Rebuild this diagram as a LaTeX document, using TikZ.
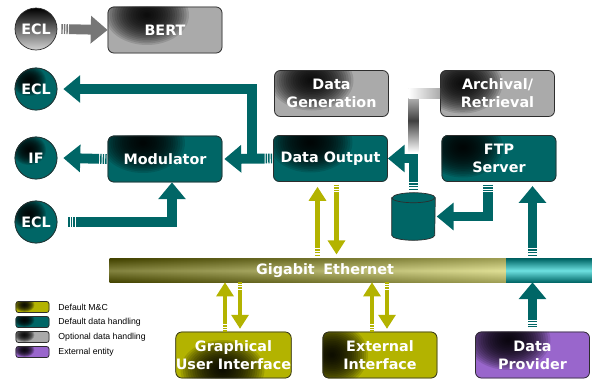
\documentclass[tikz,border=0pt]{standalone}
\usepackage{fontspec}
\setmainfont{DejaVu Sans}
\newfontfamily\legendfont{Liberation Sans}
\usetikzlibrary{arrows.meta,calc,positioning}
\pgfdeclarelayer{background}
\pgfsetlayers{background,main}

\newcommand\pxu{0.025cm}
\definecolor{dhteal}{RGB}{0,102,102}
\definecolor{mcolive}{RGB}{179,179,0}
\definecolor{optgray}{RGB}{170,170,170}
\definecolor{extpurple}{RGB}{153,102,204}
\definecolor{edgegray}{RGB}{45,45,45}
\definecolor{bertgray}{RGB}{118,118,118}
\definecolor{cyanlight}{RGB}{110,225,225}

\tikzset{box/.style={rectangle, rounded corners=6*\pxu, draw=edgegray, line width=0.5pt,
    minimum width=114*\pxu, minimum height=46*\pxu, inner sep=0pt,
    text=white, font=\bfseries\fontsize{10.2}{12.8}\selectfont, align=center}}
\tikzset{port/.style={box, circle, minimum size=42*\pxu}}
\tikzstyle{keytext}=[inner sep=0pt, font=\legendfont\fontsize{6.2}{8}\selectfont]

\begin{document}
\begin{tikzpicture}[x=\pxu, y=-\pxu]

\tikzset{flow/.style = {draw=#1, line width=7pt, line join=miter, -{Triangle[width=19pt,length=12pt]}}}
\tikzset{mc/.style = {draw=mcolive, line width=3pt, -{Triangle[width=12pt,length=10pt]}}}
\tikzset{tail/.style = {dash pattern=on 1pt off 0.8pt on 1pt off 0.8pt on 1pt off 0.8pt on 1000pt off 1pt}}

\useasboundingbox (0,0) rectangle (592,383);

%ports
\node[circle, draw=edgegray, line width=0.5pt, top color=black, bottom color=gray!35,
  minimum size=42*\pxu, inner sep=0pt, text=white, font=\bfseries\fontsize{10.2}{12.8}\selectfont] (eclbert) at (36,29) {ECL};
\node[port] (eclout) at (36,89) {ECL};
\node[port] (ifout) at (36,158) {IF};
\node[port] (eclin) at (36,222) {ECL};

%boxes
\node[box] (bert) at (165,30) {BERT};
\node[box] (mod) at (165,159) {Modulator};
\node[box] (dgen) at (331.5,93.5) {Data\\Generation};
\node[box] (dout) at (330.5,158.5) {Data Output};
\node[box] (arch) at (497.5,93.5) {Archival/\\Retrieval};
\node[box] (ftp) at (499,158.5) {FTP\\Server};
\node[box] (gui) at (233.5,355) {Graphical\\User Interface};
\node[box] (ext) at (380,355) {External\\Interface};
\node[box] (dp) at (532.5,355) {Data\\Provider};

%legend
\foreach \t [count=\i] in {Default M\&C, Default data handling, Optional data handling, External entity} {
  \node[box, minimum width=33*\pxu, minimum height=11*\pxu, rounded corners=2.5*\pxu] (key\i) at (32.5,292+15*\i) {};
  \node[keytext, right=2.2mm of key\i] (keytext\i) {\t};
}

%fills with dark glow (node/colour/spot dx/spot dy/radius x/radius y/corner)
\begin{pgfonlayer}{background}
\foreach \n/\c/\dx/\dy/\rx/\ry/\rc in {
    eclout/dhteal/-7/-8/17/15/21, ifout/dhteal/-7/-8/17/15/21, eclin/dhteal/-7/-8/17/15/21,
    bert/optgray/-18/-15/42/30/6, mod/dhteal/-22/-16/42/30/6, dgen/optgray/-20/-13/42/30/6,
    dout/dhteal/-20/-16/42/30/6, arch/optgray/-35/-10/40/30/6, ftp/dhteal/-36/-11/40/30/6,
    gui/mcolive/-11/15/42/30/6, ext/mcolive/-48/0/36/32/6, dp/extpurple/-24/-15/42/30/6,
    key1/mcolive/-8/-2/10/7/2.5, key2/dhteal/-8/-2/10/7/2.5,
    key3/optgray/-8/-2/10/7/2.5, key4/extpurple/-8/-2/10/7/2.5} {
  \fill[\c, rounded corners=\rc*\pxu] (\n.west |- \n.north) rectangle (\n.east |- \n.south);
  \begin{scope}
    \clip[rounded corners=\rc*\pxu] (\n.west |- \n.north) rectangle (\n.east |- \n.south);
    \foreach \k in {1,...,18}
      \fill[black, opacity=0.12] ([xshift=\dx*\pxu, yshift=-\dy*\pxu]\n.center)
        ellipse [x radius=(19-\k)/18*\rx*\pxu, y radius=(19-\k)/18*\ry*\pxu];
  \end{scope}
}
\end{pgfonlayer}

%storage drum
\node[inner sep=0pt, minimum width=43*\pxu, minimum height=47*\pxu] (store) at (413.5,216.5) {};
\filldraw[fill=dhteal, draw=edgegray, line width=0.5pt] ([yshift=-5*\pxu]store.north west) -- ([yshift=5*\pxu]store.south west)
  arc[start angle=180, end angle=360, x radius=21.5*\pxu, y radius=5*\pxu]
  -- ([yshift=-5*\pxu]store.north east)
  arc[start angle=0, end angle=180, x radius=21.5*\pxu, y radius=5*\pxu] -- cycle;
\draw[edgegray, line width=0.5pt] ([yshift=-5*\pxu]store.north west) arc[start angle=180, end angle=360, x radius=21.5*\pxu, y radius=5*\pxu];

%ethernet bar
\node[inner sep=0pt, minimum width=482*\pxu, minimum height=23*\pxu] (gbe) at (351,270.5) {};
\coordinate (gbesplit) at (506,270.5);
\shade[left color=mcolive!50!black, right color=mcolive!55!white] (gbe.north west) rectangle (gbe.south -| gbesplit);
\shade[top color=black, bottom color=black, middle color=white, opacity=0.25] (gbe.north west) rectangle (gbe.south -| gbesplit);
\shade[top color=dhteal, bottom color=dhteal, middle color=cyanlight] (gbe.north -| gbesplit) rectangle (gbe.south east);
\node[inner sep=0pt, text=white, font=\bfseries\fontsize{10.2}{12.8}\selectfont] (gbelabel) at (325,270.5) {Gigabit\hspace{0.6em}Ethernet};

%archival link
\coordinate (archjoin) at (store.north |- arch.west);
\coordinate (archfoot) at ($(store.north |- dout.east)+(0,-6)$);
\shade[top color=white!75!gray, bottom color=white, middle color=black!75] ($(archjoin)+(-5,-5)$) rectangle ($(archfoot)+(5,0)$);
\shade[left color=white, right color=optgray] ($(archjoin)+(-5,-5)$) rectangle ($(arch.west)+(0,5)$);

%data handling flow
\draw[flow=bertgray, tail] ([xshift=4*\pxu]eclbert.east) -- (bert.west);
\draw[flow=dhteal, tail] ([xshift=-1*\pxu]mod.west) -- ([xshift=6*\pxu]ifout.east);
\draw[flow=dhteal, tail] ([xshift=-1*\pxu]dout.west) -- ([xshift=2*\pxu]mod.east);
\coordinate (split) at ([xshift=-21*\pxu]dout.west);
\draw[flow=dhteal] (split) |- ([xshift=6*\pxu]eclout.east);
\draw[flow=dhteal, tail] ([xshift=11*\pxu]eclin.east) -| ([xshift=7*\pxu]mod.south);
\draw[flow=dhteal, tail, shorten <=2pt] (store.north) |- (dout.east);
\draw[flow=dhteal, tail, shorten <=2pt, shorten >=1pt] ([xshift=-11*\pxu]ftp.south) |- (store.east);
\draw[flow=dhteal, tail, shorten <=2pt, shorten >=3pt] (gbe.north -| dp.north) -- (ftp.south -| dp.north);
\draw[flow=dhteal, tail, shorten <=3pt] (dp.north) -- (gbe.south -| dp.north);

%M&C links
\coordinate (doutup) at ([xshift=-13*\pxu]dout.south);
\coordinate (doutdn) at ([xshift=6*\pxu]dout.south);
\coordinate (guiup) at ([xshift=-8.5*\pxu]gui.north);
\coordinate (guidn) at ([xshift=6.5*\pxu]gui.north);
\coordinate (extup) at ([xshift=-8*\pxu]ext.north);
\coordinate (extdn) at ([xshift=7*\pxu]ext.north);
\draw[mc, tail, shorten <=2pt, shorten >=3.5pt] (gbe.north -| doutup) -- (doutup);
\draw[mc, tail, shorten <=2pt, shorten >=3pt] (doutdn) -- (gbe.north -| doutdn);
\draw[mc, tail] (guiup) -- (gbe.south -| guiup);
\draw[mc, tail, shorten >=2pt] (gbe.south -| guidn) -- (guidn);
\draw[mc, tail] (extup) -- (gbe.south -| extup);
\draw[mc, tail, shorten >=2pt] (gbe.south -| extdn) -- (extdn);

\end{tikzpicture}
\end{document}
